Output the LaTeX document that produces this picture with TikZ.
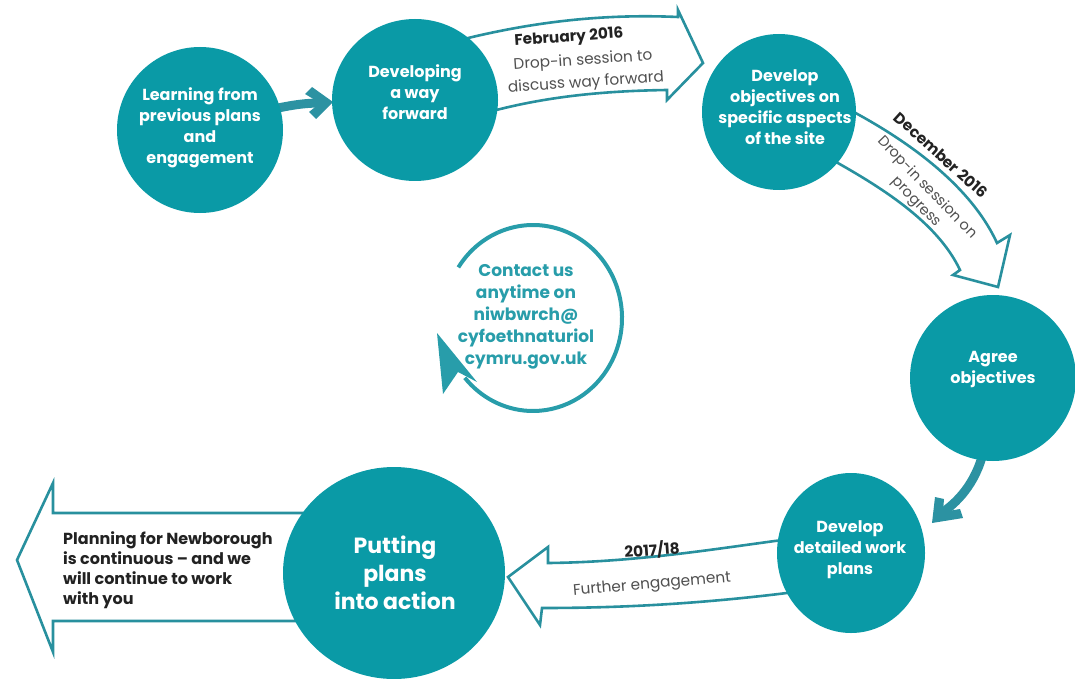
\documentclass[tikz,border=0pt]{standalone}
\usepackage{fontspec}
\setmainfont{Poppins}
\usetikzlibrary{shapes.geometric,calc}
\definecolor{teal1}{RGB}{10,154,166}
\definecolor{tealline}{RGB}{40,144,158}
\definecolor{tealarrow}{RGB}{44,146,162}
\definecolor{tealtext}{RGB}{40,157,170}
\definecolor{labeldark}{RGB}{34,34,34}
\definecolor{labelgrey}{RGB}{80,80,80}
\begin{document}
\begin{tikzpicture}[x=1pt,y=-1pt,
  bubble/.style={ellipse, fill=teal1, draw=none, inner sep=0pt},
  bubbletext/.style={text=white, font=\fontsize{16}{21}\selectfont\bfseries, align=center, inner sep=0pt},
  outarrow/.style={draw=tealline, line width=2.6pt, fill=white, line join=miter},
  thickarrow/.style={draw=tealarrow, line width=9pt},
  headfill/.style={fill=tealarrow, draw=none},
  lbold/.style={font=\fontsize{15.3}{18}\selectfont\bfseries, text=labeldark, inner sep=0pt},
  lreg/.style={font=\fontsize{15.3}{18}\selectfont, text=labelgrey, inner sep=0pt},
]
\useasboundingbox (0,0) rectangle (1075,679);

% outline arrows
\draw[outarrow] (460,40) .. controls (540,20) and (610,14) .. (678,17) -- (678,10) -- (703,63) -- (667,100) -- (667,90) .. controls (600,91) and (540,97) .. (478,115) -- cycle;
\draw[outarrow] (850,110) .. controls (925,150) and (975,195) .. (997,243) -- (1010,235) -- (998,287) -- (953,275) -- (960,270) .. controls (940,228) and (895,195) .. (836,162) -- cycle;
\draw[outarrow] (790,539) .. controls (720,548) and (640,562) .. (548,563) -- (548,547) -- (508,577) -- (540,625) -- (542,608) .. controls (620,608) and (700,604) .. (795,592) -- cycle;
\draw[outarrow] (320,513) -- (53,513) -- (53,483) -- (17,560) -- (53,652) -- (53,621) -- (320,621) -- cycle;

% thick arrows
\draw[thickarrow] (265,111) .. controls (290,105) and (305,103) .. (321,103);
\fill[headfill] (333,102) -- (312,87) -- (305,94) -- (320,103) -- (309,112) -- (316,119) -- cycle;
\draw[thickarrow] (985,445) .. controls (978,480) and (960,500) .. (943,512);
\fill[headfill] (932,523) -- (935,497) -- (944,499) -- (943,512) -- (960,509) -- (963,518) -- cycle;

% circles
\node[bubble, minimum width=166pt, minimum height=166pt] (c1) at (200,130) {};
\node[bubble, minimum width=166pt, minimum height=162pt] (c2) at (415,100) {};
\node[bubble, minimum width=154pt, minimum height=156pt] (c3) at (779,112) {};
\node[bubble, minimum width=166pt, minimum height=166pt] (c4) at (993,378) {};
\node[bubble, minimum width=148pt, minimum height=160pt] (c5) at (851,553) {};
\node[bubble, minimum width=222pt, minimum height=212pt] (c6) at (394,573) {};

\node[bubbletext] (t1) at (200,128) {Learning from\\previous plans\\and\\engagement};
\node[bubbletext] (t2) at (415,92) {Developing\\a way\\forward};
\node[bubbletext] (t3) at (785,107) {Develop\\objectives on\\specific aspects\\of the site};
\node[bubbletext] (t4) at (993,370) {Agree\\objectives};
\node[bubbletext] (t5) at (850,550) {Develop\\detailed work\\plans};
\node[bubbletext, font=\fontsize{22}{28}\selectfont\bfseries] (t6) at (395,573) {Putting\\plans\\into action};

% arrow labels
\node[lbold, rotate=4] (f1) at (569,38) {February 2016};
\node[lreg, rotate=4] (f2) at (583,61) {Drop-in session to};
\node[lreg, rotate=4] (f3) at (586,83) {discuss way forward};
\node[lbold, rotate=-42] (d1) at (941,155) {December 2016};
\node[lreg, font=\fontsize{14.5}{18}\selectfont, rotate=-46] (d2) at (927,188) {Drop-in session on};
\node[lreg, font=\fontsize{14.5}{18}\selectfont, rotate=-46] (d3) at (915,203) {progress};
\node[lbold, rotate=4] (y1) at (652,550) {2017/18};
\node[lreg, rotate=5] (y2) at (652,585) {Further engagement};
\node[font=\fontsize{16}{20}\selectfont\bfseries, text=labeldark, align=left, anchor=west, inner sep=0pt] (lt) at (63,570) {Planning for Newborough\\is continuous – and we\\will continue to work\\with you};

% contact circle
\coordinate (cc) at (533,318);
\draw[tealtext, line width=4pt] ($(cc)+(-147:89 and 93)$) arc[start angle=-147, end angle=140, x radius=89, y radius=93];
\fill[tealtext] (437,333) -- (477,382) -- (458,372) -- (443,394) -- cycle;
\node[font=\fontsize{17}{22}\selectfont\bfseries, text=tealtext, align=center, inner sep=0pt] (ct) at (526,317) {Contact us\\anytime on\\niwbwrch@\\cyfoethnaturiol\\cymru.gov.uk};
\end{tikzpicture}
\end{document}
